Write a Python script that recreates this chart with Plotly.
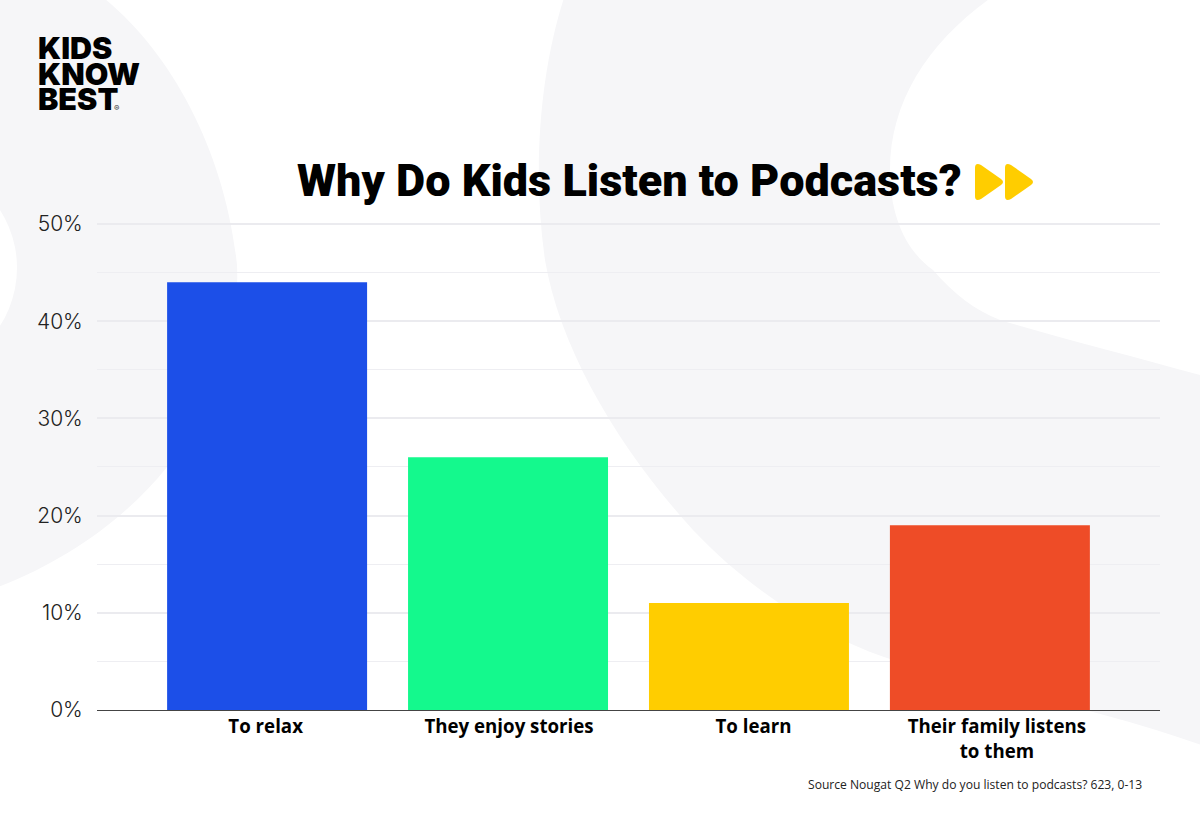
import plotly.graph_objects as go

# data
categories = ['To relax', 'They enjoy stories', 'To learn', 'Their family listens<br>to them']
bar_x = [0, 1, 2, 3]
label_x = [-0.006, 1.004, 2.019, 3.029]  # the labels sit a bit off the bar centres in the original
values = [44, 26, 11, 19]
bar_colors = ['#1c4fe8', '#14f98d', '#ffcd00', '#ee4c27']
y_ticks = [0, 10, 20, 30, 40, 50]
y_labels = ['0%', '10%', '20%', '30%', '40%', '50%']
logo_lines = ['KIDS', 'KNOW', 'BEST']

W, H = 1200, 829
GREY = '#f6f6f8'
YELLOW = '#ffcd00'
TOP = 222.06  # top of the plot area, 50% sits 2px lower so its gridline is kept


# decoration is placed in page pixels, converted to paper coords
def px(x):
    return (x - 97) / (1160 - 97)


def py(y):
    return (710 - y) / (710 - TOP)


def pt(p):
    return f'{px(p[0])},{py(p[1])}'


def curve(start, segments, closing=()):
    # segments are (ctrl, ctrl, end), closing is a list of straight corners
    s = 'M ' + pt(start) + ' '
    for a, b, c in segments:
        s += f'C {pt(a)} {pt(b)} {pt(c)} '
    for p in closing:
        s += 'L ' + pt(p) + ' '
    return s + 'Z'


def arrow(x0):
    # small rounded triangle of the title icon
    return ('M ' + pt((x0, 168)) + ' Q ' + pt((x0, 162)) + ' ' + pt((x0 + 6, 165))
            + ' L ' + pt((x0 + 26, 179)) + ' Q ' + pt((x0 + 30, 182)) + ' ' + pt((x0 + 26, 185))
            + ' L ' + pt((x0 + 6, 199)) + ' Q ' + pt((x0, 202)) + ' ' + pt((x0, 196)) + ' Z')


def fill_shape(d, color, layer='below'):
    return dict(type='path', path=d, xref='paper', yref='paper', layer=layer, fillcolor=color, line_width=0)


left_blob = curve((100, -5),
                  [((170, 50), (225, 150), (237, 265)),
                   ((240, 340), (215, 420), (167, 467)),
                   ((125, 520), (60, 565), (-10, 590))],
                  [(-10, -5)])
right_blob = curve((565, -5),
                   [((540, 70), (532, 170), (545, 260)),
                    ((560, 350), (620, 450), (693, 530)),
                    ((750, 590), (820, 635), (884, 657)),
                    ((950, 680), (1090, 705), (1210, 748))],
                   [(1210, -5)])
white_blob = curve((995, -5),
                   [((930, 40), (890, 100), (890, 170)),
                    ((890, 215), (905, 250), (933, 270)),
                    ((955, 295), (975, 310), (1000, 320)),
                    ((1060, 338), (1140, 358), (1210, 378))],
                   [(1210, -5)])

shapes = [
    fill_shape(left_blob, GREY),
    dict(type='circle', xref='paper', yref='paper', layer='below',
         x0=px(-197), x1=px(17), y0=py(375), y1=py(161), fillcolor='white', line_width=0),
    fill_shape(right_blob, GREY),
    fill_shape(white_blob, 'white'),
    fill_shape(arrow(975), YELLOW, 'above'),
    fill_shape(arrow(1005), YELLOW, 'above'),
]

annotations = [
    dict(text='Why Do Kids Listen to Podcasts?', x=px(295), y=py(181), xanchor='left', yanchor='middle',
         xref='paper', yref='paper', showarrow=False,
         font=dict(family='Roboto', size=45, color='black', weight=900)),
    dict(text='Source Nougat Q2 Why do you listen to podcasts? 623, 0-13', x=px(805.5), y=py(784),
         xanchor='left', yanchor='middle', xref='paper', yref='paper', showarrow=False,
         font=dict(family='Open Sans', size=12.1, color='#222222')),
    dict(text='®', x=px(112), y=py(108), xanchor='left', yanchor='middle', xref='paper', yref='paper',
         showarrow=False, font=dict(family='Inter', size=8, color='#333333')),
]
for i, line in enumerate(logo_lines):
    annotations.append(dict(text=line, x=px(36), y=py(48 + i * 25.5), xanchor='left', yanchor='middle',
                            xref='paper', yref='paper', showarrow=False,
                            font=dict(family='Inter', size=30.5, color='black', weight=900)))

fig = go.Figure(go.Bar(x=bar_x, y=values, marker_color=bar_colors, marker_line_width=0, width=0.83))

fig.update_layout(
    width=W, height=H,
    margin=dict(l=97, r=40, t=TOP, b=119),
    paper_bgcolor='white', plot_bgcolor='rgba(0,0,0,0)',
    showlegend=False, shapes=shapes, annotations=annotations,
)
fig.update_xaxes(
    range=[-0.706, 3.706], tickvals=label_x, ticktext=categories,
    showline=True, linecolor='#444444', linewidth=1, showgrid=False, zeroline=False,
    ticks='', ticklabelstandoff=0,
    tickfont=dict(family='Open Sans', size=18.7, color='black', weight=700),
)
fig.update_yaxes(
    range=[0, 50.2], tickvals=y_ticks, ticktext=y_labels, showline=False, zeroline=False,
    ticks='outside', ticklen=9, tickcolor='rgba(0,0,0,0)',
    tickfont=dict(family='Inter', size=21, color='#222222', weight=300),
    showgrid=True, gridcolor='#ebebef', gridwidth=1.5,
    minor=dict(dtick=5, showgrid=True, gridcolor='#eeeef2', gridwidth=1),
)

# drop the page's default body margin so the figure fills the window
fig.write_html('out.html', config={'displayModeBar': False},
               post_script='document.body.style.margin = "0";')
